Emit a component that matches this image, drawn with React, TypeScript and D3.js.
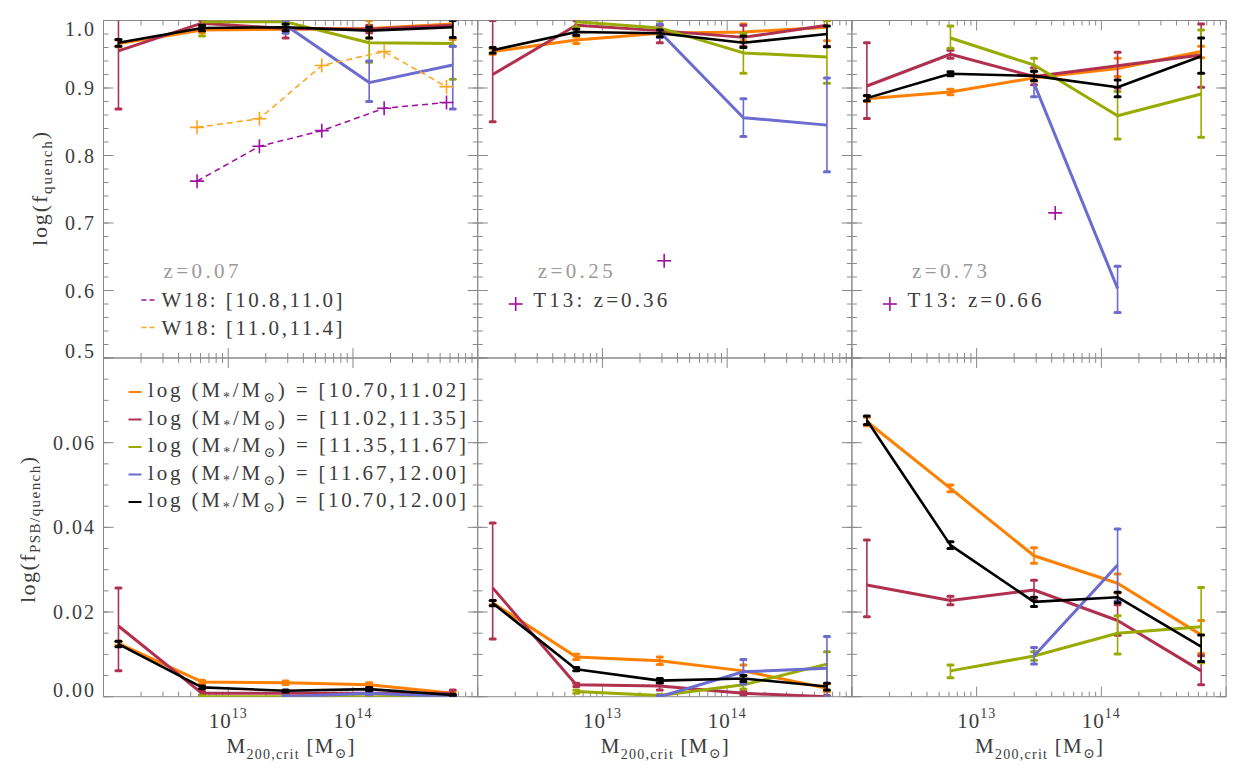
import React from 'react';
import * as d3 from 'd3';

// ---------------- DATA ----------------
const HALO_LOGM = [12.12, 12.79, 13.46, 14.13, 14.8];
const SERIES_RANGES = ['[10.70,11.02]', '[11.02,11.35]', '[11.35,11.67]', '[11.67,12.00]', '[10.70,12.00]'];
const SERIES_COLORS = ['#ff7f00', '#b03050', '#99aa00', '#6b6bd0', '#000000'];
const REDSHIFTS = ['z=0.07', 'z=0.25', 'z=0.73'];

type V = number | null;
const N = null;

// log(f_quench), series order: orange, crimson, green, blue, black
const FQ_Z007_VAL: V[][] = [
  [0.966, 0.986, 0.987, 0.988, 0.995],
  [0.955, 0.996, 0.988, 0.987, 0.993],
  [N, 0.998, 0.998, 0.967, 0.966],
  [N, N, 0.993, 0.908, 0.934],
  [0.967, 0.989, 0.99, 0.985, 0.99],
];
const FQ_Z007_LO: V[][] = [
  [0.961, 0.982, 0.984, 0.974, 0.972],
  [0.869, 0.99, 0.974, 0.982, 0.962],
  [N, 0.977, 0.994, 0.938, 0.913],
  [N, N, 0.981, 0.88, 0.869],
  [0.962, 0.985, 0.985, 0.974, 0.975],
];
const FQ_Z007_HI: V[][] = [
  [0.971, 0.99, 0.99, 1.0, 1.01],
  [1.04, 1.0, 0.995, 0.993, 1.02],
  [N, 1.01, 1.0, 1.01, 1.01],
  [N, N, 1.0, 0.94, 0.962],
  [0.972, 0.993, 0.995, 0.99, 1.0],
];

const FQ_Z025_VAL: V[][] = [
  [0.954, 0.971, 0.981, 0.983, 0.99],
  [0.92, 0.993, 0.985, 0.975, 0.993],
  [N, 0.998, 0.989, 0.952, 0.946],
  [N, N, 0.983, 0.856, 0.845],
  [0.956, 0.983, 0.981, 0.967, 0.98],
];
const FQ_Z025_LO: V[][] = [
  [0.95, 0.966, 0.976, 0.97, 0.97],
  [0.85, 0.988, 0.967, 0.962, 0.962],
  [N, 0.99, 0.98, 0.922, 0.907],
  [N, N, 0.975, 0.828, 0.776],
  [0.952, 0.978, 0.976, 0.96, 0.961],
];
const FQ_Z025_HI: V[][] = [
  [0.958, 0.976, 0.986, 0.995, 1.0],
  [1.0, 1.0, 0.993, 0.993, 1.0],
  [N, 1.01, 1.0, 0.981, 1.0],
  [N, N, 0.995, 0.884, 0.915],
  [0.96, 0.987, 0.986, 0.977, 0.992],
];

const FQ_Z073_VAL: V[][] = [
  [0.884, 0.894, 0.915, 0.929, 0.954],
  [0.903, 0.95, 0.917, 0.933, 0.949],
  [N, 0.974, 0.934, 0.859, 0.891],
  [N, N, 0.907, 0.603, N],
  [0.885, 0.921, 0.918, 0.901, 0.947],
];
const FQ_Z073_LO: V[][] = [
  [0.88, 0.89, 0.91, 0.917, 0.945],
  [0.855, 0.944, 0.905, 0.9, 0.901],
  [N, 0.959, 0.924, 0.8245, 0.827],
  [N, N, 0.887, 0.5675, N],
  [0.881, 0.918, 0.911, 0.887, 0.922],
];
const FQ_Z073_HI: V[][] = [
  [0.888, 0.898, 0.919, 0.944, 0.962],
  [0.967, 0.956, 0.93, 0.953, 0.995],
  [N, 0.992, 0.944, 0.895, 0.986],
  [N, N, 0.925, 0.636, N],
  [0.889, 0.924, 0.925, 0.912, 0.974],
];

// log(f_PSB/quench)
const FP_Z007_VAL: V[][] = [
  [0.0126, 0.0035, 0.0033, 0.0028, 0.0008],
  [0.0167, 0.0008, 0.0008, 0.0008, 0.0008],
  [N, 0.0, 0.0, 0.0, 0.0],
  [N, N, 0.0, 0.0008, 0.0],
  [0.0124, 0.0022, 0.0014, 0.0018, 0.0004],
];
const FP_Z007_LO: V[][] = [
  [0.0121, 0.0031, 0.0029, 0.0023, 0.0004],
  [0.0061, 0.0004, 0.0004, 0.0004, 0.0002],
  [N, 0.0, 0.0, 0.0, 0.0],
  [N, N, 0.0, 0.0004, 0.0],
  [0.0118, 0.0019, 0.0011, 0.0014, 0.0002],
];
const FP_Z007_HI: V[][] = [
  [0.0131, 0.0039, 0.0037, 0.0033, 0.0012],
  [0.0257, 0.0012, 0.0012, 0.0012, 0.0016],
  [N, 0.0002, 0.0002, 0.0002, 0.0002],
  [N, N, 0.0002, 0.0012, 0.0002],
  [0.0131, 0.0025, 0.0016, 0.0022, 0.0006],
];

const FP_Z025_VAL: V[][] = [
  [0.0222, 0.0094, 0.0085, 0.0061, 0.002],
  [0.0257, 0.0028, 0.0025, 0.0008, 0.0],
  [N, 0.0012, 0.0003, 0.0028, 0.0077],
  [N, N, 0.0, 0.0059, 0.0067],
  [0.0221, 0.0065, 0.0038, 0.0043, 0.0024],
];
const FP_Z025_LO: V[][] = [
  [0.0217, 0.0088, 0.0076, 0.005, 0.0012],
  [0.0136, 0.0024, 0.0016, 0.0004, 0.0],
  [N, 0.0008, 0.0001, 0.0018, 0.0],
  [N, N, 0.0, 0.003, 0.0],
  [0.0215, 0.0061, 0.0033, 0.0036, 0.0016],
];
const FP_Z025_HI: V[][] = [
  [0.0227, 0.01, 0.0094, 0.0075, 0.003],
  [0.041, 0.0032, 0.0032, 0.0012, 0.0003],
  [N, 0.0016, 0.0005, 0.0038, 0.0106],
  [N, N, 0.0003, 0.0088, 0.0142],
  [0.0227, 0.0069, 0.0043, 0.005, 0.0032],
];

const FP_Z073_VAL: V[][] = [
  [0.065, 0.0492, 0.0333, 0.0268, 0.0146],
  [0.0264, 0.0227, 0.0252, 0.018, 0.0061],
  [N, 0.0061, 0.0096, 0.015, 0.0165],
  [N, N, 0.0096, 0.0311, N],
  [0.0653, 0.0358, 0.0224, 0.0235, 0.0118],
];
const FP_Z073_LO: V[][] = [
  [0.064, 0.0484, 0.0315, 0.0245, 0.0102],
  [0.0189, 0.0217, 0.0228, 0.0145, 0.0028],
  [N, 0.0045, 0.0086, 0.0101, 0.008],
  [N, N, 0.0077, 0.0226, N],
  [0.0643, 0.035, 0.0213, 0.0222, 0.0083],
];
const FP_Z073_HI: V[][] = [
  [0.066, 0.05, 0.0352, 0.029, 0.018],
  [0.037, 0.0237, 0.0275, 0.0217, 0.0097],
  [N, 0.0075, 0.0106, 0.0191, 0.0258],
  [N, N, 0.0116, 0.0396, N],
  [0.0663, 0.0366, 0.0235, 0.0247, 0.0146],
];

// Wetzel+18 observations (z=0.07 panel)
const W18_LOGM = [12.75, 13.25, 13.75, 14.25, 14.75];
const W18_LOWMASS = [0.762, 0.8136, 0.8368, 0.87, 0.8786];
const W18_HIGHMASS = [0.8417, 0.8545, 0.9333, 0.954, 0.902];
const W18_LABELS = ['W18: [10.8,11.0]', 'W18: [11.0,11.4]'];
const W18_COLORS = ['#a010a0', '#ffa31a'];

// Tanaka+13 points
const T13_LOGM = [13.495, 13.63];
const T13_VAL = [0.644, 0.715];
const T13_LABELS = ['T13: z=0.36', 'T13: z=0.66'];
const T13_COLOR = '#a010a0';

const Y_TOP_TICKS = [0.5, 0.6, 0.7, 0.8, 0.9, 1.0];
const Y_TOP_LABELS = ['0.5', '0.6', '0.7', '0.8', '0.9', '1.0'];
const Y_BOT_TICKS = [0.0, 0.02, 0.04, 0.06, 0.08];
const Y_BOT_LABELS = ['0.00', '0.02', '0.04', '0.06', ''];
const X_LABEL_EXP = [13, 14];

// ---------------- LAYOUT ----------------
const COL_X = [103.5, 477.7, 851.9];
const PANEL_W = 374.2;
const ROW_Y = [20.5, 358];
const ROW_B = [358, 696.7];
const FONT = 'Liberation Serif, DejaVu Serif, serif';
const TXT = '#3c3c3c';
const AX = '#8a8a8a';

const QV = [FQ_Z007_VAL, FQ_Z025_VAL, FQ_Z073_VAL];
const QL = [FQ_Z007_LO, FQ_Z025_LO, FQ_Z073_LO];
const QH = [FQ_Z007_HI, FQ_Z025_HI, FQ_Z073_HI];
const PV = [FP_Z007_VAL, FP_Z025_VAL, FP_Z073_VAL];
const PL = [FP_Z007_LO, FP_Z025_LO, FP_Z073_LO];
const PH = [FP_Z007_HI, FP_Z025_HI, FP_Z073_HI];

function Cross({ x, y, color, s = 7 }: { x: number; y: number; color: string; s?: number }) {
  return (
    <g stroke={color} strokeWidth={1.6}>
      <line x1={x - s} x2={x + s} y1={y} y2={y} />
      <line x1={x} x2={x} y1={y - s} y2={y + s} />
    </g>
  );
}

function Panel({ col, row }: { col: number; row: number }) {
  const x0 = COL_X[col];
  const x1 = x0 + PANEL_W;
  const yT = ROW_Y[row];
  const yB = ROW_B[row];
  const xs = d3.scaleLog().domain([1e12, 1e15]).range([x0, x1]);
  const ys =
    row === 0
      ? d3.scaleLinear().domain([0.5, 1.0]).range([yB, yT])
      : d3.scaleLinear().domain([0, 0.08]).range([yB, yT]);
  const vals = row === 0 ? QV[col] : PV[col];
  const los = row === 0 ? QL[col] : PL[col];
  const his = row === 0 ? QH[col] : PH[col];
  const clipId = `clip-${row}-${col}`;

  const line = d3
    .line<{ m: number; v: V }>()
    .defined((d) => d.v !== null)
    .x((d) => xs(Math.pow(10, d.m)))
    .y((d) => ys(d.v as number));

  const xMajor = [1e12, 1e13, 1e14, 1e15];
  const xMinor: number[] = [];
  [1e12, 1e13, 1e14].forEach((dec) => {
    for (let k = 2; k <= 9; k++) xMinor.push(k * dec);
  });
  const yMajor = row === 0 ? Y_TOP_TICKS : Y_BOT_TICKS;
  const yMinorStep = row === 0 ? 0.02 : 0.005;
  const yDom = ys.domain();
  const yMinor: number[] = [];
  for (let v = yDom[0]; v <= yDom[1] + 1e-9; v += yMinorStep) yMinor.push(+v.toFixed(4));

  return (
    <g>
      <defs>
        <clipPath id={clipId}>
          <rect x={x0} y={yT} width={PANEL_W} height={yB - yT} />
        </clipPath>
      </defs>
      <g stroke={AX} strokeWidth={1}>
        {xMajor.map((t, i) => (
          <g key={'xM' + i}>
            <line x1={xs(t)} x2={xs(t)} y1={yB} y2={yB - 10} />
            <line x1={xs(t)} x2={xs(t)} y1={yT} y2={yT + 10} />
          </g>
        ))}
        {xMinor.map((t, i) => (
          <g key={'xm' + i}>
            <line x1={xs(t)} x2={xs(t)} y1={yB} y2={yB - 5} />
            <line x1={xs(t)} x2={xs(t)} y1={yT} y2={yT + 5} />
          </g>
        ))}
        {yMinor.map((t, i) => (
          <g key={'ym' + i}>
            <line x1={x0} x2={x0 + 5} y1={ys(t)} y2={ys(t)} />
            <line x1={x1} x2={x1 - 5} y1={ys(t)} y2={ys(t)} />
          </g>
        ))}
        {yMajor.map((t, i) => (
          <g key={'yM' + i}>
            <line x1={x0} x2={x0 + 10} y1={ys(t)} y2={ys(t)} />
            <line x1={x1} x2={x1 - 10} y1={ys(t)} y2={ys(t)} />
          </g>
        ))}
      </g>
      <rect x={x0} y={yT} width={PANEL_W} height={yB - yT} fill="none" stroke={AX} strokeWidth={1} />

      {col === 0 &&
        yMajor.map((t, i) => {
          const lab = row === 0 ? Y_TOP_LABELS[i] : Y_BOT_LABELS[i];
          if (!lab) return null;
          const cy = Math.min(Math.max(ys(t), yT + 8), yB - 7);
          return (
            <text key={'yl' + i} x={96} y={cy} dy="0.35em" textAnchor="end" fontSize={20} letterSpacing={2} fill={TXT} fontFamily={FONT}>
              {lab}
            </text>
          );
        })}
      {row === 1 &&
        X_LABEL_EXP.map((e) => (
          <text key={'xl' + e} x={xs(Math.pow(10, e))} y={728} textAnchor="middle" fontSize={21} letterSpacing={1} fill={TXT} fontFamily={FONT}>
            10
            <tspan fontSize={14} dy={-10}>
              {e}
            </tspan>
          </text>
        ))}
      {row === 1 && (
        <text x={(x0 + x1) / 2} y={753} textAnchor="middle" fontSize={21} fill={TXT} fontFamily={FONT} textLength={128} lengthAdjust="spacing">
          M
          <tspan fontSize={14} dy={6}>
            200,crit
          </tspan>
          <tspan dy={-6}> [M</tspan>
          <tspan fontSize={14} dy={5}>
            ⊙
          </tspan>
          <tspan dy={-5}>]</tspan>
        </text>
      )}

      <g clipPath={`url(#${clipId})`}>
        {vals.map((sv, s) => {
          const pts = HALO_LOGM.map((m, i) => ({ m, v: sv[i] }));
          return (
            <g key={'s' + s}>
              <path d={line(pts) || ''} fill="none" stroke={SERIES_COLORS[s]} strokeWidth={s === 4 ? 2.6 : 3} strokeLinejoin="round" />
              {pts.map((p, i) => {
                const lo = los[s][i];
                const hi = his[s][i];
                if (p.v === null || lo === null || hi === null) return null;
                const px = xs(Math.pow(10, p.m));
                return (
                  <g key={'e' + i} stroke={SERIES_COLORS[s]}>
                    <line x1={px} x2={px} y1={ys(lo)} y2={ys(hi)} strokeWidth={1.6} />
                    <line x1={px - 2.5} x2={px + 2.5} y1={ys(lo)} y2={ys(lo)} strokeWidth={3} strokeLinecap="round" />
                    <line x1={px - 2.5} x2={px + 2.5} y1={ys(hi)} y2={ys(hi)} strokeWidth={3} strokeLinecap="round" />
                  </g>
                );
              })}
            </g>
          );
        })}

        {row === 0 && col === 0 &&
          [W18_LOWMASS, W18_HIGHMASS].map((arr, k) => {
            const pts = W18_LOGM.map((m, i) => ({ m, v: arr[i] as V }));
            return (
              <g key={'w' + k}>
                <path d={line(pts) || ''} fill="none" stroke={W18_COLORS[k]} strokeWidth={1.5} strokeDasharray="6,4" />
                {pts.map((p, i) => (
                  <Cross key={i} x={xs(Math.pow(10, p.m))} y={ys(p.v as number)} color={W18_COLORS[k]} />
                ))}
              </g>
            );
          })}
        {row === 0 && col > 0 && (
          <Cross x={xs(Math.pow(10, T13_LOGM[col - 1]))} y={ys(T13_VAL[col - 1])} color={T13_COLOR} />
        )}
      </g>

      {row === 0 && (
        <text x={x0 + 60} y={271} dy="0.35em" fontSize={21} fill="#9a9a9a" fontFamily={FONT} textLength={75} lengthAdjust="spacing">
          {REDSHIFTS[col]}
        </text>
      )}
      {row === 0 && col === 0 &&
        W18_LABELS.map((lab, k) => {
          const cy = 300 + k * 27.5;
          return (
            <g key={'wl' + k}>
              <line x1={x0 + 38} x2={x0 + 51} y1={cy} y2={cy} stroke={W18_COLORS[k]} strokeWidth={1.5} strokeDasharray="5,3" />
              <text x={x0 + 58} y={cy} dy="0.35em" fontSize={21} fill={TXT} fontFamily={FONT} textLength={181} lengthAdjust="spacing">
                {lab}
              </text>
            </g>
          );
        })}
      {row === 0 && col > 0 && (
        <g>
          <Cross x={x0 + 38} y={304} color={T13_COLOR} />
          <text x={x0 + 55.5} y={300} dy="0.35em" fontSize={21} fill={TXT} fontFamily={FONT} textLength={134} lengthAdjust="spacing">
            {T13_LABELS[col - 1]}
          </text>
        </g>
      )}
      {row === 1 && col === 0 &&
        SERIES_RANGES.map((r, s) => {
          const cy = 390 + s * 27.5;
          return (
            <g key={'lg' + s}>
              <line x1={x0 + 25} x2={x0 + 38} y1={cy + 2} y2={cy + 2} stroke={SERIES_COLORS[s]} strokeWidth={2} />
              <text x={x0 + 44.5} y={cy} dy="0.35em" fontSize={21} fill={TXT} fontFamily={FONT} textLength={318} lengthAdjust="spacing">
                log (M
                <tspan fontSize={14} dy={5}>
                  *
                </tspan>
                <tspan dy={-5}>/M</tspan>
                <tspan fontSize={14} dy={5}>
                  ⊙
                </tspan>
                <tspan dy={-5}>{') = ' + r}</tspan>
              </text>
            </g>
          );
        })}
    </g>
  );
}

export default function App() {
  return (
    <svg width={1246} height={779} style={{ position: 'absolute', left: 0, top: 0, background: '#fff' }}>
      <rect x={0} y={0} width={1246} height={779} fill="#fff" />
      {[0, 1].map((row) => [0, 1, 2].map((col) => <Panel key={`${row}-${col}`} row={row} col={col} />))}
      <text transform="translate(47,189) rotate(-90)" textAnchor="middle" fontSize={22} fill={TXT} fontFamily={FONT} textLength={114} lengthAdjust="spacing">
        log(f
        <tspan fontSize={15} dy={5}>
          quench
        </tspan>
        <tspan dy={-5}>)</tspan>
      </text>
      <text transform="translate(35,530) rotate(-90)" textAnchor="middle" fontSize={22} fill={TXT} fontFamily={FONT} textLength={146} lengthAdjust="spacing">
        log(f
        <tspan fontSize={15} dy={5}>
          PSB/quench
        </tspan>
        <tspan dy={-5}>)</tspan>
      </text>
    </svg>
  );
}
